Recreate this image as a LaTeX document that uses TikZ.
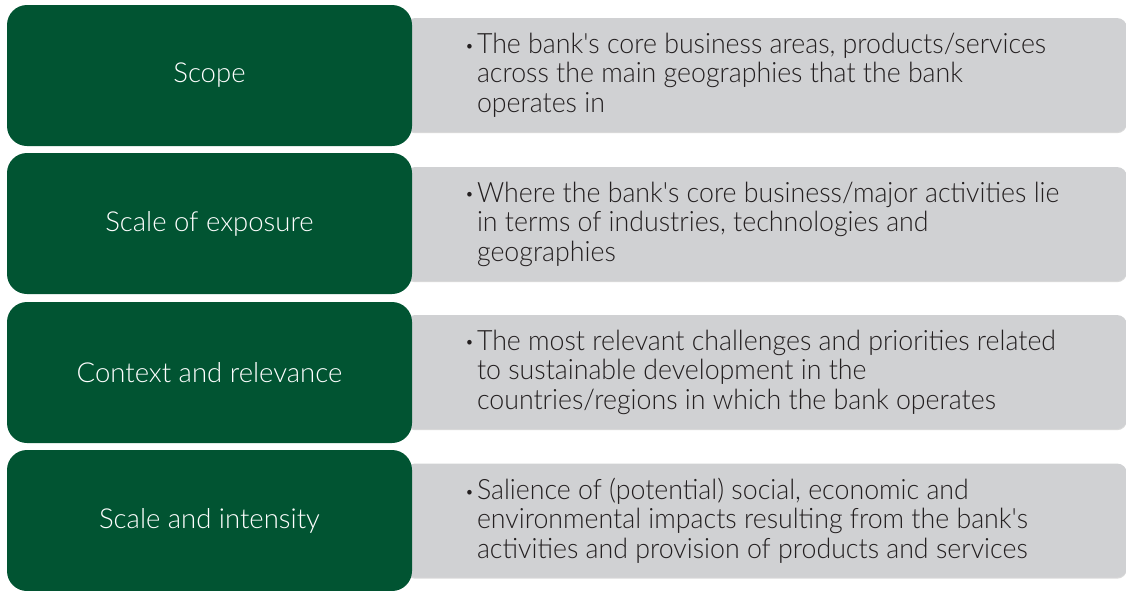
\documentclass[tikz,border=0pt]{standalone}
\usepackage{fontspec}
\usetikzlibrary{shadows}
\IfFontExistsTF{Lato Light}{%
    \setmainfont{Lato Light}
    \newfontfamily\lightfont{Lato Light}
    \newfontfamily\narrowfont{Lato Light}[FakeStretch=0.955]
}{%
    \setmainfont{Lato}
    \newfontfamily\lightfont{Lato}
    \newfontfamily\narrowfont{Lato}[FakeStretch=0.955]
}
\definecolor{bankgreen}{HTML}{015432}
\definecolor{boxgray}{HTML}{D0D1D3}
\definecolor{inkgray}{HTML}{231F20}
\newcommand{\bul}{\makebox[12pt][l]{\raisebox{2.2pt}{\fontsize{16}{16}\selectfont\textbullet}}}
\newcommand{\ind}{\hspace*{12pt}}

\begin{document}
\begin{tikzpicture}[
            x = 1pt, y = -1pt, % one unit is one pixel
            every node/.style = {inner sep = 0pt, outer sep = 0pt}
        ]

        \tikzstyle{head}=[
            rectangle,
            fill = bankgreen,
            rounded corners = 20pt,
            minimum width = 405pt,
            minimum height = 141pt,
            text = white,
            font = \lightfont\fontsize{27.5}{30}\selectfont
        ]
        \tikzstyle{panel}=[
            rectangle,
            fill = boxgray,
            rounded corners = 10pt,
            minimum width = 722pt,
            minimum height = 114pt,
            drop shadow = {shadow xshift = 0pt, shadow yshift = -1.2pt, opacity = 0.15, fill = black}
        ]
        \tikzstyle{note}=[
            anchor = west,
            align = left,
            text = inkgray,
            font = \narrowfont\fontsize{28}{29.5}\selectfont
        ]

        \useasboundingbox (0,0) rectangle (1126,590);

        % grey panels behind
        \node[panel] (scopebox) [at={(766, 75)}] {};
        \node[panel] (exposurebox) [at={(766, 224)}] {};
        \node[panel] (contextbox) [at={(766, 372)}] {};
        \node[panel] (intensitybox) [at={(766, 520.5)}] {};

        % green headings
        \node[head] (scope) [at={(209.5, 75.5)}] {Scope};
        \node[head] (exposure) [at={(209.5, 223.5)}] {Scale of exposure};
        \node[head] (context) [at={(209.5, 372.5)}] {Context and relevance};
        \node[head] (intensity) [at={(209.5, 520.5)}] {Scale and intensity};

        % bullet texts
        \node[note] (scopetxt) [at={(465, 75)}] {\bul The bank's core business areas, products/services\\
            \ind across the main geographies that the bank\\
            \ind operates in};
        \node[note] (exposuretxt) [at={(465, 224)}] {\bul Where the bank's core business/major activities lie\\
            \ind in terms of industries, technologies and\\
            \ind geographies};
        \node[note] (contexttxt) [at={(465, 372)}] {\bul The most relevant challenges and priorities related\\
            \ind to sustainable development in the\\
            \ind countries/regions in which the bank operates};
        \node[note] (intensitytxt) [at={(465, 520.5)}] {\bul Salience of (potential) social, economic and\\
            \ind environmental impacts resulting from the bank's\\
            \ind activities and provision of products and services};
    \end{tikzpicture}
\end{document}
